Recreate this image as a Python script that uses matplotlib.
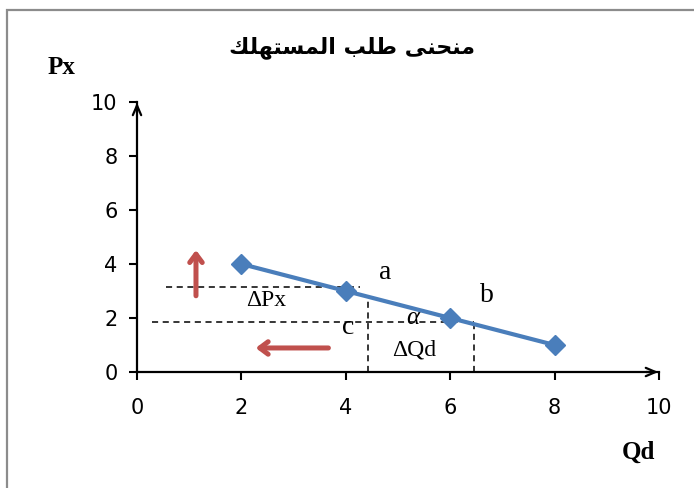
import matplotlib.pyplot as plt
from matplotlib.patches import Rectangle

# demand curve points
qd = [2, 4, 6, 8]
px = [4, 3, 2, 1]

x_ticks = [0, 2, 4, 6, 8, 10]
y_ticks = [0, 2, 4, 6, 8, 10]

# guide lines between points a, b and c
px_lines = [3.15, 1.85]
qd_lines = [4.42, 6.45]

# title "منحنى طلب المستهلك" written with presentation forms, visual order
title = ('\uFEDA\uFEE0\uFEEC\uFE98\uFEB4\uFEE4\uFEDF\uFE8D '
         '\uFE90\uFEE0\uFEC3 '
         '\uFEF0\uFEE8\uFEA4\uFEE8\uFEE3')

fig = plt.figure(figsize=(6.94, 4.88), dpi=100)
ax = fig.add_axes([137 / 694, 116 / 488, 522 / 694, 270 / 488])

blue = '#4a7ebb'
red = '#c0504d'

ax.plot(qd, px, color=blue, lw=3, marker='D', ms=10.5, zorder=5)

# dashed helper lines
ax.plot([0.55, 4.27], [px_lines[0], px_lines[0]], 'k--', lw=1.1, dashes=(4, 3))
ax.plot([0.28, 6.45], [px_lines[1], px_lines[1]], 'k--', lw=1.1, dashes=(4, 3))
ax.plot([qd_lines[0], qd_lines[0]], [0, 2.8], 'k--', lw=1.1, dashes=(4, 3))
ax.plot([qd_lines[1], qd_lines[1]], [0, px_lines[1]], 'k--', lw=1.1, dashes=(4, 3))

# red direction arrows
arrow = dict(arrowstyle='->,head_length=0.6,head_width=0.45', color=red, lw=3.6)
ax.annotate('', xy=(1.13, 4.62), xytext=(1.13, 2.72), arrowprops=arrow)
ax.annotate('', xy=(2.22, 0.89), xytext=(3.72, 0.89), arrowprops=arrow)

serif = 'Liberation Serif'
ax.text(4.75, 3.67, 'a', fontsize=20, family=serif, ha='center', va='center')
ax.text(6.70, 2.82, 'b', fontsize=20, family=serif, ha='center', va='center')
ax.text(4.04, 1.63, 'c', fontsize=20, family=serif, ha='center', va='center')
ax.text(5.29, 2.0, '\u03b1', fontsize=18, family=serif, style='italic',
        ha='center', va='center')
ax.text(2.47, 2.66, '\u0394Px', fontsize=17, family=serif, ha='center', va='center')
ax.text(5.31, 0.80, '\u0394Qd', fontsize=17, family=serif, ha='center', va='center')

ax.set_xlim(0, 10)
ax.set_ylim(0, 10)
ax.set_xticks(x_ticks)
ax.set_yticks(y_ticks)
ax.tick_params(axis='both', labelsize=15, width=1.5, length=6, direction='out')
ax.tick_params(axis='x', pad=13)
ax.tick_params(axis='y', pad=8)
for lab in ax.get_xticklabels() + ax.get_yticklabels():
    lab.set_family('Lato')

for s in ['top', 'right']:
    ax.spines[s].set_visible(False)
for s in ['left', 'bottom']:
    ax.spines[s].set_linewidth(1.6)
    ax.spines[s].set_position(('data', 0))

# arrow heads at the axis ends
head = dict(arrowstyle='->,head_length=0.7,head_width=0.3', color='black', lw=1.6)
ax.annotate('', xy=(0, 10.08), xytext=(0, 9.5), arrowprops=head, annotation_clip=False)
ax.annotate('', xy=(10.04, 0), xytext=(9.7, 0), arrowprops=head, annotation_clip=False)

fig.text(62 / 694, 1 - 67 / 488, 'Px', fontsize=18, fontweight='bold', family=serif,
         ha='center', va='center')
fig.text(638 / 694, 1 - 452 / 488, 'Qd', fontsize=18, fontweight='bold', family=serif,
         ha='center', va='center')
fig.text(352 / 694, 1 - 48 / 488, title, fontsize=16, fontweight='bold',
         family='DejaVu Sans', ha='center', va='center')

# chart frame
fig.patches.append(Rectangle((7 / 694, -0.05), 1.0, 1 - 10 / 488 + 0.05,
                             transform=fig.transFigure, fill=False,
                             edgecolor='#8c8c8c', lw=1.6))

fig.savefig('out.png', dpi=100)
